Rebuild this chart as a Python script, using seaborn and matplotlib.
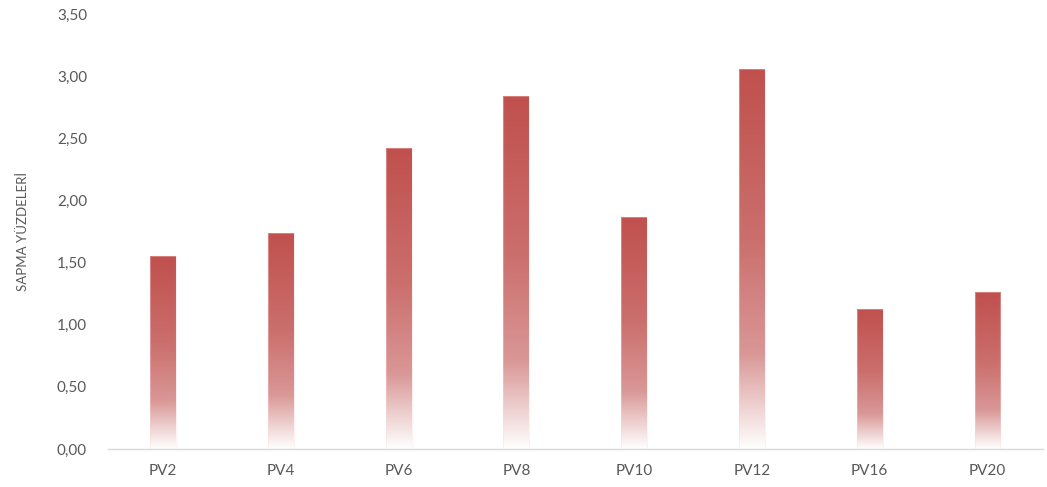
import numpy as np
import pandas as pd
import matplotlib
matplotlib.use("Agg")
import matplotlib.pyplot as plt
from matplotlib.colors import LinearSegmentedColormap
from matplotlib.ticker import FuncFormatter
import seaborn as sns

# Deviation percentages per PV group
categories = ["PV2", "PV4", "PV6", "PV8", "PV10", "PV12", "PV16", "PV20"]
values = [1.55, 1.74, 2.42, 2.84, 1.87, 3.06, 1.13, 1.26]
y_ticks = [0.0, 0.5, 1.0, 1.5, 2.0, 2.5, 3.0, 3.5]
y_label = "SAPMA YÜZDELERİ"

sns.set_theme(style="white")
plt.rcParams["font.family"] = ["Lato", "DejaVu Sans"]

df = pd.DataFrame({"grup": categories, "sapma": values})

fig = plt.figure(figsize=(10.47, 4.87), dpi=100)
ax = fig.add_axes([0.103, 0.078, 0.893, 0.893])

sns.barplot(data=df, x="grup", y="sapma", ax=ax, width=0.22,
            color="#C0504D", saturation=1, edgecolor="none")

# Vertical red-to-white fill for each bar, clipped to the bar shape
grad_cmap = LinearSegmentedColormap.from_list(
    "bar_grad",
    [(0.0, "#C0504D"), (0.45, "#CB6F6D"), (0.75, "#D99796"), (1.0, "#FFFFFF")],
)
grad = np.linspace(0, 1, 256).reshape(-1, 1)
for patch in ax.patches:
    x0, y0 = patch.get_x(), patch.get_y()
    w, h = patch.get_width(), patch.get_height()
    patch.set_facecolor("none")
    im = ax.imshow(grad, cmap=grad_cmap, aspect="auto", origin="upper",
                   extent=(x0, x0 + w, y0, y0 + h), zorder=2,
                   interpolation="bilinear")
    im.set_clip_path(patch)
    # faint light outline at the edges
    ax.add_patch(plt.Rectangle((x0, y0), w, h, fill=False,
                               edgecolor=(1, 0.85, 0.85, 0.35), lw=0.8, zorder=3))

ax.set_xlim(-0.47, 7.47)
ax.set_ylim(0, 3.5)
ax.set_yticks(y_ticks)
ax.yaxis.set_major_formatter(FuncFormatter(lambda v, _: f"{v:.2f}".replace(".", ",")))

for side in ["top", "right", "left"]:
    ax.spines[side].set_visible(False)
ax.spines["bottom"].set_color("#D9D9D9")
ax.spines["bottom"].set_linewidth(1.0)

ax.tick_params(axis="both", length=0, labelsize=11, colors="#595959")
ax.tick_params(axis="y", pad=15)
ax.tick_params(axis="x", pad=11)
ax.set_xlabel("")
ax.set_ylabel(y_label, fontsize=9.5, color="#595959", labelpad=20)
ax.grid(False)

fig.savefig("out.png", dpi=100, facecolor="white")
